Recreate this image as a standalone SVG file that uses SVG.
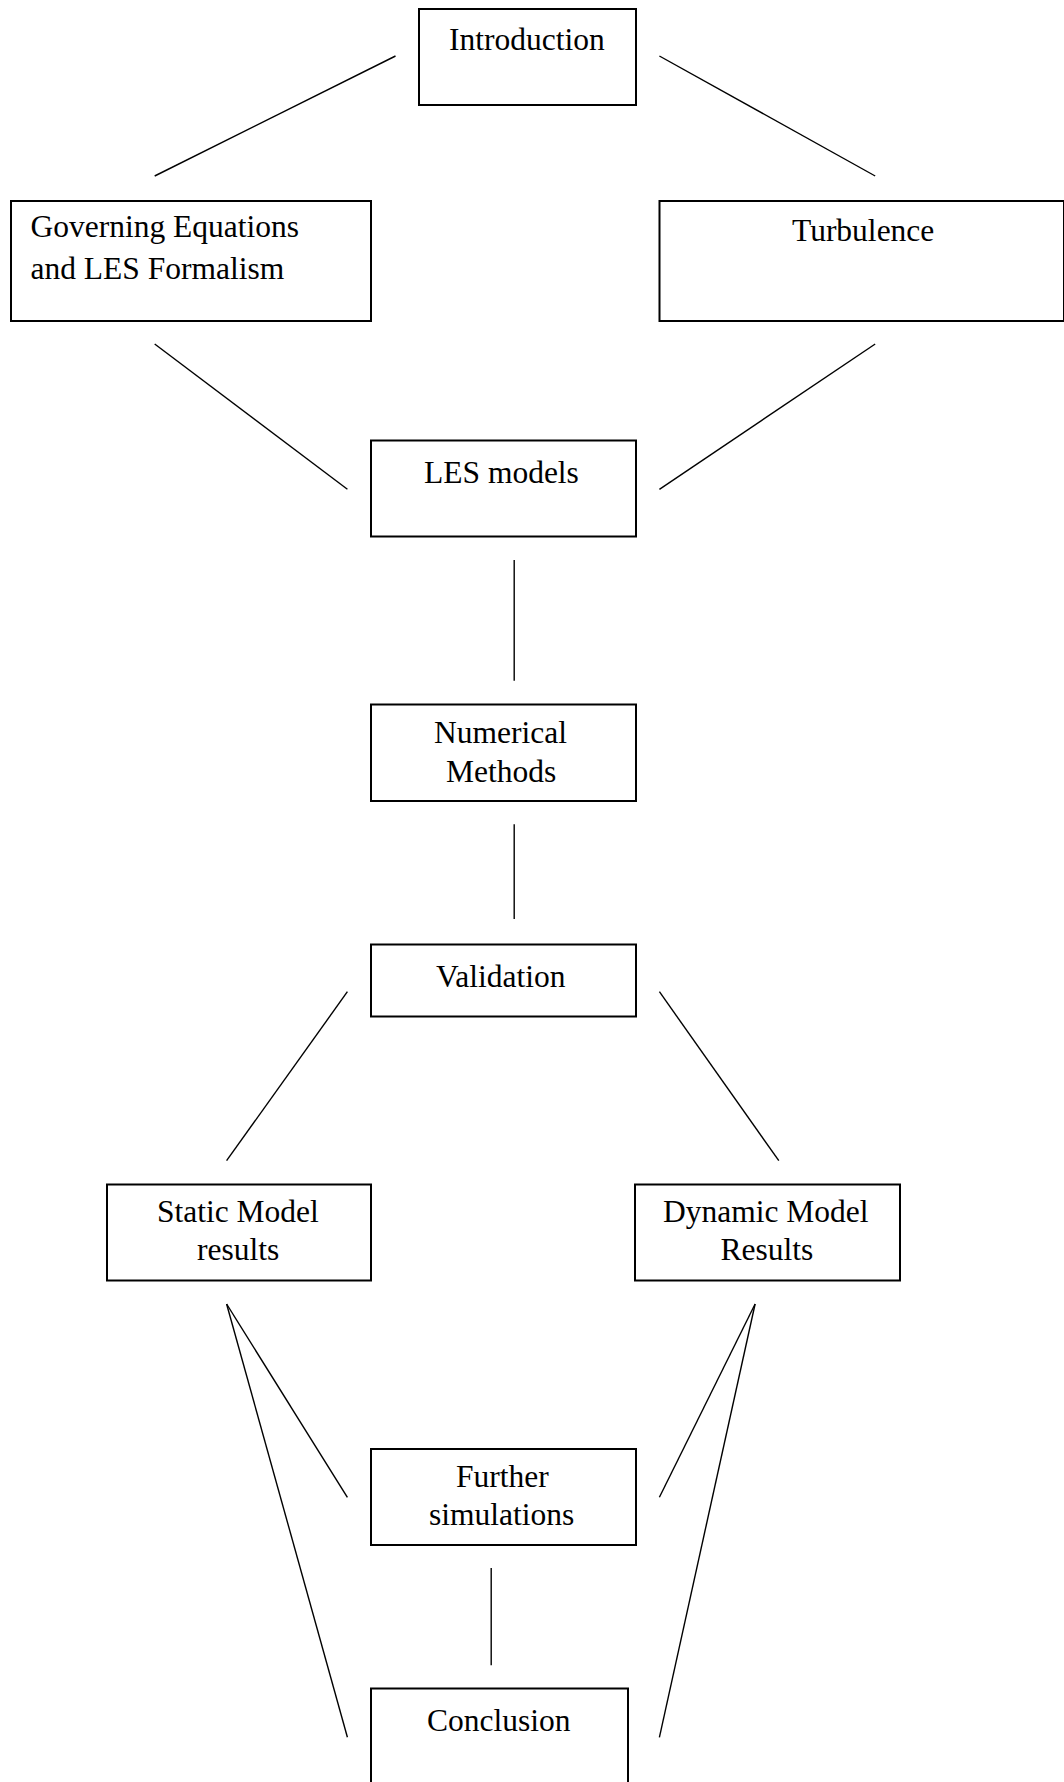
<svg xmlns="http://www.w3.org/2000/svg" width="1064" height="1782" viewBox="0 0 1064 1782">
<style>
.box{fill:#fff;stroke:#000;stroke-width:2}
.lbl{font-family:"Liberation Serif","Times New Roman",serif;font-size:31.5px;fill:#000}
.conn line{stroke:#000;stroke-width:1.4;fill:none}
</style>
<rect width="1064" height="1782" fill="#fff"/>
<g class="conn" id="connectors">
<line x1="395.5" y1="56" x2="154.7" y2="176"/>
<line x1="659.4" y1="56" x2="875.2" y2="176"/>
<line x1="154.7" y1="344" x2="347.4" y2="489.3"/>
<line x1="875.2" y1="344" x2="659.4" y2="489.3"/>
<line x1="514.2" y1="560" x2="514.2" y2="680.7"/>
<line x1="514.2" y1="824.3" x2="514.2" y2="919"/>
<line x1="347.4" y1="991.7" x2="226.6" y2="1160.7"/>
<line x1="659.4" y1="991.7" x2="778.8" y2="1160.7"/>
<line x1="226.6" y1="1304" x2="347.4" y2="1497.3"/>
<line x1="226.6" y1="1304" x2="347.4" y2="1737.3"/>
<line x1="755.1" y1="1304" x2="659.4" y2="1497.3"/>
<line x1="755.1" y1="1304" x2="659.4" y2="1737.3"/>
<line x1="491.2" y1="1568" x2="491.2" y2="1665.3"/>
</g>
<g id="introduction"><rect class="box" x="419" y="9" width="217" height="96"/><text class="lbl" x="449" y="50">Introduction</text></g>
<g id="governing"><rect class="box" x="11" y="201" width="360" height="120"/><text class="lbl" x="30.5" y="237">Governing Equations</text><text class="lbl" x="30.5" y="279">and LES Formalism</text></g>
<g id="turbulence"><rect class="box" x="659.5" y="201" width="404.5" height="120"/><text class="lbl" x="792" y="241">Turbulence</text></g>
<g id="les-models"><rect class="box" x="371" y="440.5" width="265" height="96"/><text class="lbl" x="424" y="483">LES models</text></g>
<g id="numerical"><rect class="box" x="371" y="704.5" width="265" height="96.5"/><text class="lbl" x="434" y="743">Numerical</text><text class="lbl" x="446" y="782">Methods</text></g>
<g id="validation"><rect class="box" x="371" y="944.5" width="265" height="72"/><text class="lbl" x="436" y="987">Validation</text></g>
<g id="static"><rect class="box" x="107" y="1184.5" width="264" height="96"/><text class="lbl" x="157" y="1222">Static Model</text><text class="lbl" x="197" y="1260">results</text></g>
<g id="dynamic"><rect class="box" x="635" y="1184.5" width="265" height="96"/><text class="lbl" x="663" y="1222">Dynamic Model</text><text class="lbl" x="720.5" y="1260">Results</text></g>
<g id="further"><rect class="box" x="371" y="1449" width="265" height="96"/><text class="lbl" x="456" y="1487">Further</text><text class="lbl" x="429" y="1525">simulations</text></g>
<g id="conclusion"><rect class="box" x="371" y="1688.5" width="257" height="120"/><text class="lbl" x="427" y="1731">Conclusion</text></g>
</svg>
